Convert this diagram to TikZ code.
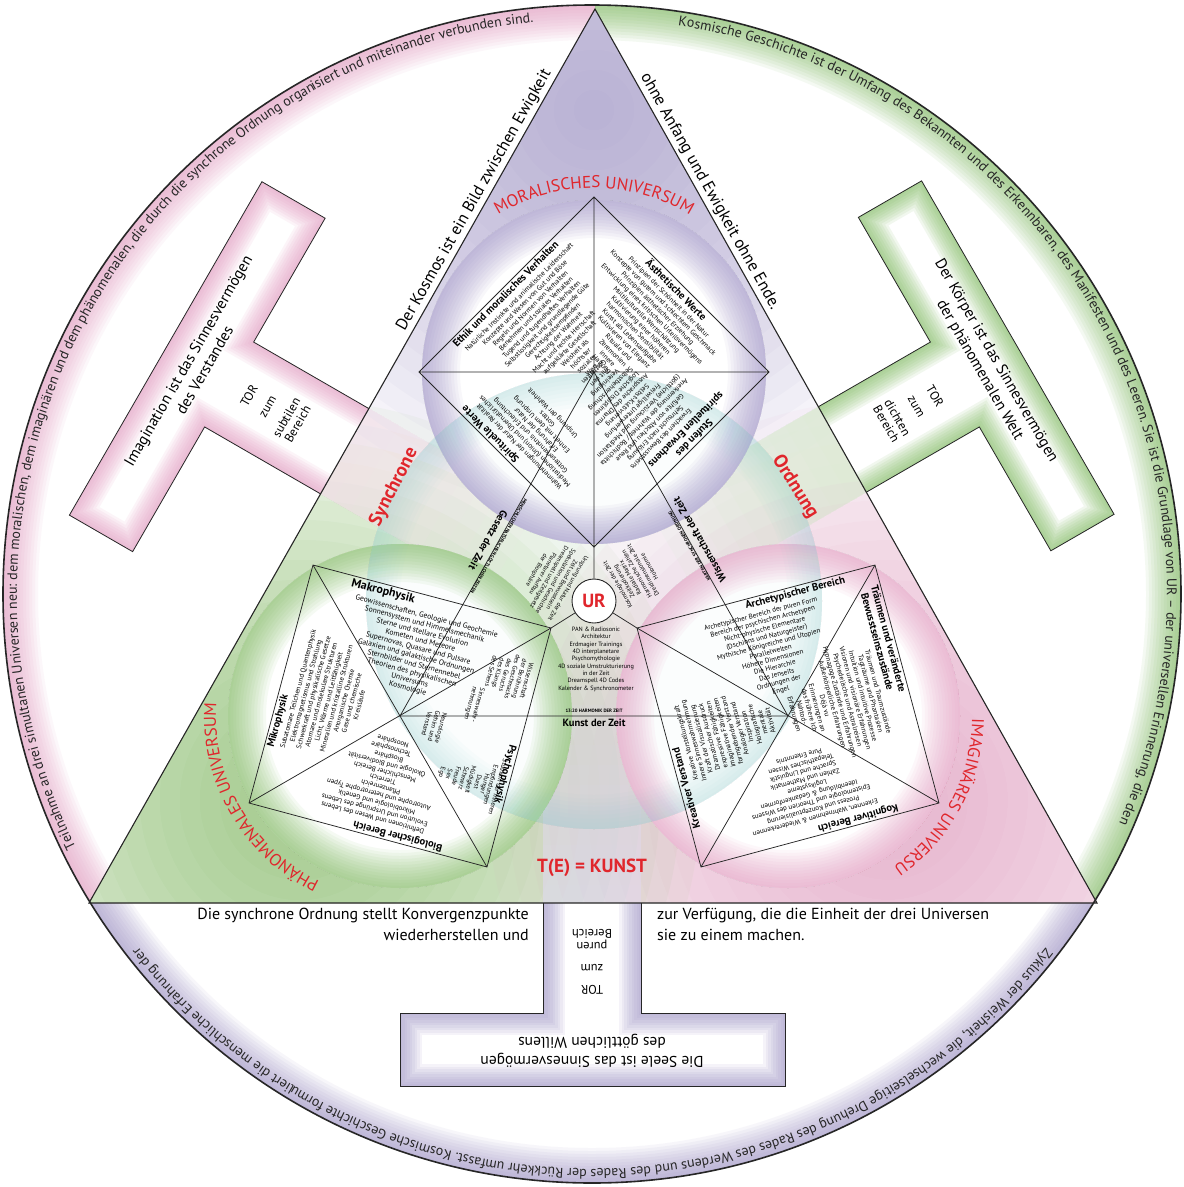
\documentclass[tikz,border=0pt]{standalone}
\usepackage{fontspec}
\setmainfont{PT Sans}
\usetikzlibrary{calc,decorations.text}

\definecolor{RimPink}{HTML}{E39AC0}
\definecolor{RimGreen}{HTML}{7DB95C}
\definecolor{RimLav}{HTML}{9D92C6}
\definecolor{SyncCyan}{HTML}{8FCFD3}
\definecolor{UrRed}{HTML}{E0262C}
\definecolor{InkGray}{HTML}{262626}

\newcommand{\gateshape}{(543,700) -- (543,1013) -- (400,1013) -- (400,1086) -- (785,1086) -- (785,1013) -- (641,1013) -- (641,700) -- cycle}
\newcommand{\leftseg}{(595,9) -- (89,903) -- (-30,903) -- (-30,-30) -- (595,-30) -- cycle}
\newcommand{\rightseg}{(595,9) -- (1097,903) -- (1214,903) -- (1214,-30) -- (595,-30) -- cycle}
\newcommand{\botseg}{(89,903) -- (1097,903) -- (1214,903) -- (1214,1217) -- (-30,1217) -- (-30,903) -- cycle}

\newcommand{\rimglow}[2]{%
  \begin{scope}
    \clip #1;
    \clip (cbig) circle (589);
    \foreach \w in {4,10,...,70}
      \draw[#2,line width=\w pt,opacity=0.08] (cbig) circle (589);
  \end{scope}}

\newcommand{\glowdisc}[3]{%
  \begin{scope}
    \clip #1 circle (#2);
    \fill[white] #1 circle (#2);
    \foreach \w in {4,10,...,76}
      \draw[#3,line width=\w pt,opacity=0.07] #1 circle (#2);
  \end{scope}}

% colour, turn, name, bar text, stem text
\newcommand{\drawgate}[5]{%
  \begin{scope}[rotate around={#2:(cbig)}]
    \begin{scope}
      \clip \gateshape;
      \fill[white] \gateshape;
      \foreach \w in {4,9,...,44}
        \draw[#1,line width=\w pt,opacity=0.1] \gateshape;
    \end{scope}
    \draw[gateline] \gateshape;
    \node[gatetext,transform shape,rotate=180] (#3bar) at (592,1051) {#4};
    \node[stemtext,transform shape,rotate=180] (#3stem) at (592,962) {#5};
  \end{scope}}

\begin{document}
\begin{tikzpicture}[x=1pt,y=-1pt,
  gateline/.style={draw=InkGray,line width=0.8pt},
  sqline/.style={draw=InkGray,line width=0.75pt},
  gatetext/.style={font=\fontsize{15.5}{19}\selectfont,align=center,inner sep=0pt},
  stemtext/.style={font=\fontsize{12.5}{13}\selectfont,align=center,inner sep=0pt},
  sidetext/.style={font=\fontsize{16.5}{18}\selectfont,inner sep=1pt},
  basetext/.style={font=\fontsize{16}{21}\selectfont,inner sep=0pt},
  edgetitle/.style={font=\fontsize{10.5}{11.5}\selectfont\bfseries,anchor=north,align=center,inner sep=0pt},
  listtext/.style={font=\fontsize{7}{7.9}\selectfont,anchor=north,align=center,inner sep=0pt},
  colnote/.style={font=\fontsize{6.6}{7.4}\selectfont,align=center,inner sep=0pt},
  midlist/.style={font=\fontsize{6.2}{7.3}\selectfont,anchor=north,align=center,inner sep=0pt},
  capsline/.style={font=\fontsize{4.8}{6}\selectfont\bfseries,anchor=south,inner sep=0pt},
  timetitle/.style={font=\fontsize{10.5}{12}\selectfont\bfseries,anchor=north,inner sep=0pt},
  redlabel/.style={font=\fontsize{19}{20}\selectfont\bfseries,text=UrRed,inner sep=0pt},
  arctitle/.style={decorate,decoration={text along path,text align=center,text color=UrRed,
    text={|\fontsize{17}{18}\selectfont|#1}}},
  rimtext/.style={decorate,decoration={text along path,text align=center,text color=InkGray,
    text={|\fontsize{14}{15}\selectfont|#1}}}
]
\useasboundingbox (0,0) rectangle (1184,1187);
\fill[white] (0,0) rectangle (1184,1187);

\coordinate (cbig) at (592,594);
\coordinate (apex) at (595,9);
\coordinate (bl) at (89,903);
\coordinate (br) at (1097,903);
\coordinate (S) at (594,601);
\coordinate (O) at (594,372);
\coordinate (T) at (594,197);
\coordinate (R) at (769,372);
\coordinate (Bm) at (594,547);
\coordinate (L) at (419,372);
\coordinate (C) at (400,716);
\coordinate (A) at (313,565);
\coordinate (B) at (551,628);
\coordinate (E) at (487,867);
\coordinate (D) at (249,803);
\coordinate (H) at (788,716);
\coordinate (G) at (875,565);
\coordinate (F) at (637,628);
\coordinate (K) at (701,867);
\coordinate (J) at (939,803);

\fill[white] (cbig) circle (589);
\rimglow{\leftseg}{RimPink}
\rimglow{\rightseg}{RimGreen}
\rimglow{\botseg}{RimLav}

\begin{scope}
  \clip (apex) -- (bl) -- (br) -- cycle;
  \foreach \r in {20,40,...,400} {
    \fill[RimLav,opacity=0.05] (594,110) circle (\r);
    \fill[RimGreen,opacity=0.05] (300,800) circle (\r);
    \fill[RimPink,opacity=0.05] (888,800) circle (\r);
  }
  \foreach \ang/\col in {0/RimLav,-120/RimPink,120/RimGreen}
    \foreach \l in {20,40,...,220}
      \fill[\col!30!white,opacity=0.1,rotate around={\ang:(cbig)}] (543,935) rectangle (641,{905-\l});
\end{scope}

\begin{scope}
  \clip \botseg;
  \drawgate{RimLav}{0}{gb}{Die Seele ist das Sinnesvermögen\\des göttlichen Willens}{TOR\\[8pt]zum\\[9pt]puren\\Bereich}
\end{scope}
\begin{scope}
  \clip \leftseg;
  \drawgate{RimPink}{-120}{gl}{Imagination ist das Sinnesvermögen\\des Verstandes}{TOR\\[8pt]zum\\[9pt]subtilen\\Bereich}
\end{scope}
\begin{scope}
  \clip \rightseg;
  \drawgate{RimGreen}{120}{gr}{Der Körper ist das Sinnesvermögen\\der phänomenalen Welt}{TOR\\[8pt]zum\\[9pt]dichten\\Bereich}
\end{scope}

\glowdisc{(O)}{172}{RimLav}
\glowdisc{(C)}{172}{RimGreen}
\glowdisc{(H)}{172}{RimPink}

\begin{scope}
  \clip (S) circle (228);
  \fill[SyncCyan,opacity=0.03] (S) circle (228);
  \foreach \w in {4,12,...,68}
    \draw[SyncCyan,line width=\w pt,opacity=0.04] (S) circle (228);
\end{scope}

\draw[InkGray,line width=1.1pt] (apex) -- (bl) -- (br) -- cycle;
\draw[InkGray,line width=1.6pt] (cbig) circle (589);

\draw[sqline] (T) -- (R) -- (Bm) -- (L) -- cycle (L) -- (R) (T) -- (Bm);
\draw[sqline] (A) -- (B) -- (E) -- (D) -- cycle (A) -- (E) (B) -- (D);
\draw[sqline] (F) -- (G) -- (J) -- (K) -- cycle (F) -- (J) (G) -- (K);
\draw[sqline] (O) -- (C) -- (H) -- cycle;
\node[circle,draw=InkGray,line width=0.9pt,fill=white,minimum size=44pt,inner sep=0pt,
  font=\fontsize{19}{20}\selectfont\bfseries,text=UrRed] (ur) at (S) {UR};
\draw[sqline] (ur) -- (Bm) (ur) -- (B) (ur) -- (F);

% rim and arc texts
\path[rimtext={Teilnahme an drei simultanen Universen neu: dem moralischen, dem imaginären und dem phänomenalen, die durch die synchrone Ordnung organisiert und miteinander verbunden sind.}]
  (cbig) ++(-209:575) arc[start angle=-209,end angle=-93,radius=575];
\path[rimtext={Kosmische Geschichte ist der Umfang des Bekannten und des Erkennbaren, des Manifesten und des Leeren. Sie ist die Grundlage von UR – der universellen Erinnerung, die den}]
  (cbig) ++(-86:575) arc[start angle=-86,end angle=28,radius=575];
\path[rimtext={Zyklus der Weisheit, die wechselseitige Drehung des Rades des Werdens und des Rades der Rückkehr umfasst. Kosmische Geschichte formuliert die menschliche Erfahrung der}]
  (cbig) ++(31:575) arc[start angle=31,end angle=149,radius=575];

\path[arctitle={MORALISCHES UNIVERSUM}] (O) ++(-135:184) arc[start angle=-135,end angle=-45,radius=184];
\path[arctitle={PHÄNOMENALES UNIVERSUM}] (C) ++(-255:184) arc[start angle=-255,end angle=-165,radius=184];
\path[arctitle={IMAGINÄRES UNIVERSU}] (H) ++(-17:184) arc[start angle=-17,end angle=73,radius=184];

\path (bl) -- (apex) node[sidetext,pos=0.78,sloped,above=2pt] (kosmos) {Der Kosmos ist ein Bild zwischen Ewigkeit};
\path (apex) -- (br) node[sidetext,pos=0.21,sloped,above=2pt] (ende) {ohne Anfang und Ewigkeit ohne Ende.};
\node[basetext,align=right,anchor=north east] (baseleft) at (529,908)
  {Die synchrone Ordnung stellt Konvergenzpunkte\\wiederherstellen und};
\node[basetext,align=left,anchor=north west] (baseright) at (657,908)
  {zur Verfügung, die die Einheit der drei Universen\\sie zu einem machen.};

\node[redlabel,rotate=63] (synchrone) at (394,487) {Synchrone};
\node[redlabel,rotate=-58] (ordnung) at (795,487) {Ordnung};
\node[redlabel] (kunst) at (592,868) {T(E) = KUNST};

% moral square
\node[edgetitle,rotate=45] (ethik) at ($($(L)!0.47!(T)$)!2pt!(O)$) {Ethik und moralisches Verhalten};
\node[listtext,rotate=45] (ethiklist) at ($($(L)!0.5!(T)$)!15pt!(O)$)
  {Natürliche Instinkte und animalische Leidenschaft\\Konzepte und Wesen von Gut und Böse\\Regeln und Normen von Verhalten\\Benehmen und soziales Verhalten\\Tugend und tugendhaftes Verhalten\\Selbstlosigkeit und grundlegende Güte\\Gerechtigkeitsempfinden\\Achtung der Wahrheit\\Macht und rechte Herrschaft\\aufgeklärte Gesellschaft\\Weisheit als\\höchster\\sozialer\\Wert};
\node[edgetitle,rotate=-45] (aesth) at ($($(T)!0.5!(R)$)!2pt!(O)$) {Ästhetische Werte};
\node[listtext,rotate=-45] (aesthlist) at ($($(T)!0.5!(R)$)!15pt!(O)$)
  {Prinzipien der Schönheit in der Natur\\Konzepte von gutem und schlechtem Geschmack\\Prinzipien ästhetischer Erziehung\\Entwicklung eines kritischen Urteilsvermögens\\Multikulturelle Wertschätzung\\Kultivierung einer höheren\\harmonischen Sensibilität\\Kunst als Lebensaufgabe\\Kultivieren von Eleganz\\Rituale und\\Zeremonien\\innere\\Haltung};
\node[edgetitle,rotate=135] (spirit) at ($($(Bm)!0.62!(L)$)!2pt!(O)$) {Spirituelle Werte};
\node[listtext,rotate=135] (spiritlist) at ($($(Bm)!0.5!(L)$)!15pt!(O)$)
  {Wahrnehmungen der Natur der Realität\\Meditationen (Union) und Übernatürliches\\Gotteserkenntnis und Erleuchtung\\Erfahrung der Natur\\Einheit mit dem Ursprung\\Gottes\\Ursprung der Wahrheit};
\node[edgetitle,rotate=-135] (stufen) at ($($(R)!0.4!(Bm)$)!2pt!(O)$) {Stufen des\\spirituellen Erwachens};
\node[listtext,rotate=-135] (stufenlist) at ($($(R)!0.5!(Bm)$)!26pt!(O)$)
  {Erwachen des Bewusstseins\\Sehnsucht nach Erlösung\\Gefühle von Abscheu und Reue\\Anerkennung der Wahrheit / Bodhichitta\\(göttliche) Verzückung und Meditation\\Freiwillige Unterwerfung\\Selbst-Kultivierung\\Aussprache des Dharma\\Logische Disziplinen\\Selbstbeherrschung\\Vereinigung\\mit den\\Gottheiten};

% phenomenal square
\node[edgetitle,rotate=-14.8,font=\fontsize{12}{13}\selectfont\bfseries] (makro) at ($($(A)!0.3!(B)$)!2pt!(C)$) {Makrophysik};
\node[listtext,rotate=-14.8,font=\fontsize{7.6}{8.3}\selectfont] (makrolist) at ($($(A)!0.5!(B)$)!17pt!(C)$)
  {Geowissenschaften, Geologie und Geochemie\\Sonnensystem und Himmelsmechanik\\Sterne und stellare Evolution\\Kometen und Meteore\\Supernovas, Quasare und Pulsare\\Galaxien und galaktische Ordnungen\\Sternbilder und Sternennebel\\Theorien des physikalischen\\Universums\\Kosmologie};
\node[edgetitle,rotate=75] (mikro) at ($($(D)!0.35!(A)$)!2pt!(C)$) {Mikrophysik};
\node[listtext,rotate=75] (mikrolist) at ($($(D)!0.5!(A)$)!15pt!(C)$)
  {Subatomare Teilchen und Quantenphysik\\Elektromagnetismus und Strahlung\\Schwerkraft und physikalische Gesetze\\Atomare und molekulare Strukturen\\Licht, Wärme und Leitfähigkeit\\Mineralien und kristalline Strukturen\\Anorganische Chemie\\Gase und chemische\\Kreisläufe};
\node[edgetitle,rotate=165] (bio) at ($($(E)!0.38!(D)$)!2pt!(C)$) {Biologischer Bereich};
\node[listtext,rotate=165] (biolist) at ($($(E)!0.5!(D)$)!15pt!(C)$)
  {Definitionen und Wesen des Lebens\\Evolution und Ursprünge des Lebens\\Mikrobiologie und Genetik\\Autotrophe und heterotrophe Typen\\Pflanzenreich\\Tierreich\\Menschlicher Bereich\\Ökologie und Biodiversität\\Biosphäre\\Technosphäre\\Noosphäre};
\node[edgetitle,rotate=-105] (psycho) at ($($(B)!0.62!(E)$)!2pt!(C)$) {Psychophysik};
\node[colnote,rotate=-105] (psycholist) at (494,786) {Studium der inneren\\Empfindungen};
\node[colnote,rotate=-105] (psychowords) at (463,778) {Hunger\\Durst\\Müdigkeit\\Schmerz\\Freude\\Sex\\Ego};
\node[colnote,rotate=-105] (sinne) at (509,676) {Wissenschaft\\der Berührung\\des Geschmacks\\des Geruchs\\des Klangs\\des Sehens};
\node[colnote,rotate=-105] (wahrn) at (474,704) {Sinneswahr-\\nehmungen};
\node[colnote,rotate=-105] (neuro) at (434,726) {Neurologie\\Gehirn und\\Verstand};

% imaginary square
\node[edgetitle,rotate=14.8] (archet) at ($($(F)!0.66!(G)$)!2pt!(H)$) {Archetypischer Bereich};
\node[listtext,rotate=14.8] (archetlist) at ($($(F)!0.5!(G)$)!15pt!(H)$)
  {Archetypischer Bereich der puren Form\\Bereich der psychischen Archetypen\\Nicht-physische Elementare\\(Dschinns und Naturgeister)\\Mythische Königreiche und Utopien\\Parallelwelten\\Höhere Dimensionen\\Die Hierarchie\\Das Jenseits\\Ordnungen der\\Engel};
\node[edgetitle,rotate=-75] (traum) at ($($(G)!0.3!(J)$)!2pt!(H)$) {Träumen und veränderte\\Bewusstseinszustände};
\node[listtext,rotate=-75] (traumlist) at ($($(G)!0.5!(J)$)!27pt!(H)$)
  {Träumen und Traumzustände\\Tagträume und Phantasien\\Intuition und intuitive Prozesse\\Visionen und visionäre Erfahrungen\\Psychedelische und Astralreisen\\Hypnagoge Zustände und Erfahrungen\\Außerkörperliche Erfahrungen\\Déjà vu\\Erinnerungen an\\das frühere Ich\\Nahtod-\\Erfahrungen};
\node[edgetitle,rotate=-165] (kogn) at ($($(J)!0.33!(K)$)!2pt!(H)$) {Kognitiver Bereich};
\node[listtext,rotate=-165] (kognlist) at ($($(J)!0.5!(K)$)!15pt!(H)$)
  {Erkennen, Wahrnehmen \& Wiedererkennen\\Prozess und Konzeptualisierung\\Epistemologie und Theorien des Wissens\\Ideenbildung \& Gedankenformen\\Logiksysteme\\Zahlen und Mathematik\\Sprache und Linguistik\\Telepathisches Wissen\\Pure Erkenntnis};
\node[edgetitle,rotate=105] (kreativ) at ($($(K)!0.32!(F)$)!2pt!(H)$) {Kreativer Verstand};
\node[listtext,rotate=105] (kreativlist) at ($($(K)!0.5!(F)$)!15pt!(H)$)
  {Kreative Vorstellungskraft\\Innere Sinneswahrnehmung\\Kraft der Visualisierung\\Dramatischer Ausdruck\\expressive Fähigkeiten\\imaginative Fähigkeiten\\formgebender Verstand\\Analoger Verstand\\Inspiration\\Holografische\\mentale\\Aktivität};

% time regions round UR
\node[midlist] (kunstlist) at (596,627)
  {PAN \& Radiosonic\\Architektur\\Erdmagier Trainings\\4D interplanetare\\Psychomythologie\\4D soziale Umstrukturierung\\in der Zeit\\Dreamspell 4D Codes\\Kalender \& Synchronometer};
\node[capsline] (harmonik) at (594,713) {13:20 HARMONIK DER ZEIT};
\node[timetitle] (kunstzeit) at (594,719) {Kunst der Zeit};
\begin{scope}[rotate around={-120:(S)}]
  \node[midlist,transform shape] (gesetzlist) at (596,627)
    {Ursprung und Natur der Zeit\\Zeit und Bewusstsein\\Spekulation und Geschichte\\Dreamspell und Zeitgesetz\\Planetarer Aufbau\\der Biosphäre};
  \node[capsline,transform shape] (zeiten) at (594,713) {MENSCHLICHEN NATÜRLICHEN GÖTTLICHEN ZEITEN};
  \node[timetitle,transform shape] (gesetz) at (594,719) {Gesetz der Zeit};
\end{scope}
\begin{scope}[rotate around={120:(S)}]
  \node[midlist,transform shape] (wisslist) at (596,627)
    {Kosmologie der Zeit\\Zeitkodierung\\Radiale Matrix\\Harmonische Zahlen\\Dreidimensionale Zeit\\Holonomie};
  \node[capsline,transform shape] (karten) at (594,713) {KARTEN DER SYNCHRONEN ORDNUNG};
  \node[timetitle,transform shape] (wissen) at (594,719) {Wissenschaft der Zeit};
\end{scope}
\end{tikzpicture}
\end{document}
